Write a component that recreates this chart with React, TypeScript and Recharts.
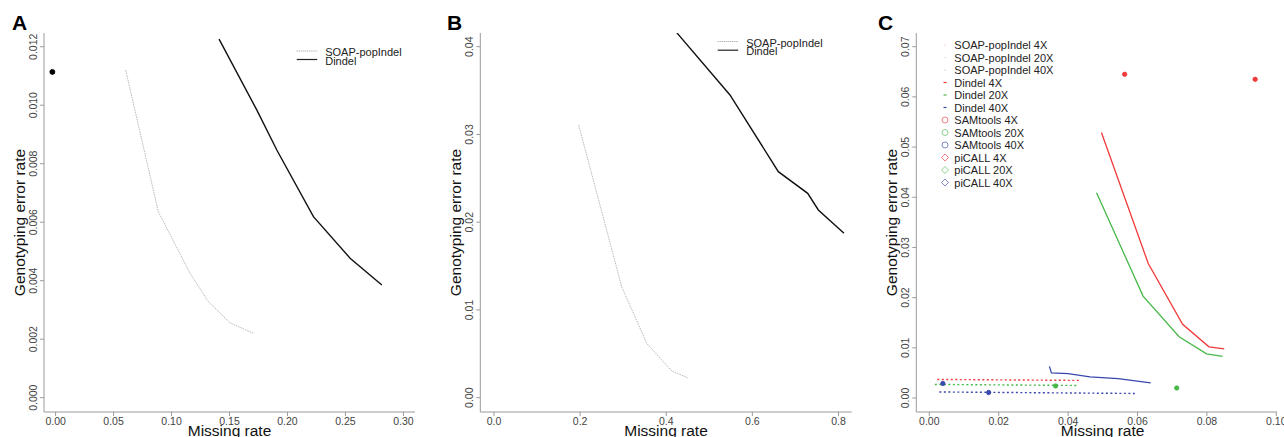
import { ComposedChart, Line, Scatter, XAxis, YAxis } from "recharts";

const FONT = '"Liberation Sans", Arial, Helvetica, sans-serif';
const RED = "#f03a3a";
const GREEN = "#47b847";
const BLUE = "#3848ad";

// ---------- panel A ----------
const aSoapX = [0.0605, 0.0886, 0.116, 0.1318, 0.1505, 0.1706];
const aSoapY = [0.0112, 0.00636, 0.00425, 0.00328, 0.00256, 0.0022];
const aDindelX = [0.141, 0.1735, 0.1908, 0.2224, 0.254, 0.2814];
const aDindelY = [0.01226, 0.00984, 0.00847, 0.00619, 0.00477, 0.00385];
const aDotX = [-0.0028];
const aDotY = [0.01114];
const aXTicks = [0, 0.05, 0.1, 0.15, 0.2, 0.25, 0.3];
const aYTicks = [0, 0.002, 0.004, 0.006, 0.008, 0.01, 0.012];

// ---------- panel B ----------
const bSoapX = [0.1966, 0.2965, 0.3546, 0.4127, 0.4498];
const bSoapY = [0.03108, 0.01265, 0.0062, 0.00304, 0.00228];
const bDindelX = [0.4243, 0.548, 0.6603, 0.7285, 0.7532, 0.8128];
const bDindelY = [0.0416, 0.0345, 0.02576, 0.02329, 0.02139, 0.01873];
const bXTicks = [0, 0.2, 0.4, 0.6, 0.8];
const bYTicks = [0, 0.01, 0.02, 0.03, 0.04];

// ---------- panel C ----------
const cSoap4X = [0.0023, 0.0437];
const cSoap4Y = [0.0037, 0.0035];
const cSoap20X = [0.0016, 0.0429];
const cSoap20Y = [0.0027, 0.0025];
const cSoap40X = [0.0029, 0.0599];
const cSoap40Y = [0.0012, 0.0009];
const cDindel4X = [0.0496, 0.0631, 0.073, 0.0806, 0.085];
const cDindel4Y = [0.0529, 0.0268, 0.0147, 0.0102, 0.0098];
const cDindel20X = [0.0482, 0.0616, 0.072, 0.0799, 0.0845];
const cDindel20Y = [0.0409, 0.0203, 0.0122, 0.0088, 0.0083];
const cDindel40X = [0.0346, 0.0352, 0.04, 0.0463, 0.0544, 0.0638];
const cDindel40Y = [0.0063, 0.005, 0.00485, 0.0042, 0.00386, 0.003];
const cSam4 = [0.0563, 0.0645];
const cSam20 = [0.0713, 0.002];
const cSam40 = [0.0039, 0.0029];
const cPi4 = [0.0939, 0.0635];
const cPi20 = [0.0364, 0.0024];
const cPi40 = [0.0171, 0.0011];
const cXTicks = [0, 0.02, 0.04, 0.06, 0.08, 0.1];
const cYTicks = [0, 0.01, 0.02, 0.03, 0.04, 0.05, 0.06, 0.07];

const cLegendNames = [
  "SOAP-popIndel 4X",
  "SOAP-popIndel 20X",
  "SOAP-popIndel 40X",
  "Dindel 4X",
  "Dindel 20X",
  "Dindel 40X",
  "SAMtools 4X",
  "SAMtools 20X",
  "SAMtools 40X",
  "piCALL 4X",
  "piCALL 20X",
  "piCALL 40X",
];

const pts = (xs: number[], ys: number[]) => xs.map((x, i) => ({ x, y: ys[i] }));

type Series = {
  name: string;
  data: { x: number; y: number }[];
  color: string;
  width?: number;
  dash?: string;
  point?: boolean;
  r?: number;
};

const PLOT_TOP = 33;
const PLOT_BOTTOM = 412;
const H = 437;

const XTick = (props: any) => {
  const { x, y, payload, digits } = props;
  return (
    <text x={x} y={y + 8.5} textAnchor="middle" fontSize={10.5} fill="#444" fontFamily={FONT}>
      {Number(payload.value).toFixed(digits)}
    </text>
  );
};

const YTick = (props: any) => {
  const { x, y, payload, digits } = props;
  const bx = x - 3;
  return (
    <text
      x={bx}
      y={y}
      transform={`rotate(-90 ${bx} ${y})`}
      textAnchor="middle"
      fontSize={10.5}
      fill="#444"
      fontFamily={FONT}
    >
      {Number(payload.value).toFixed(digits)}
    </text>
  );
};

const XTitle = ({ cx }: { cx: number }) => (
  <text x={cx} y={436} textAnchor="middle" fontSize={15.5} fill="#111" fontFamily={FONT}>
    Missing rate
  </text>
);

const YTitle = ({ bx }: { bx: number }) => {
  const cy = (PLOT_TOP + PLOT_BOTTOM) / 2;
  return (
    <text
      x={bx}
      y={cy}
      transform={`rotate(-90 ${bx} ${cy})`}
      textAnchor="middle"
      fontSize={15.5}
      fill="#111"
      fontFamily={FONT}
    >
      Genotyping error rate
    </text>
  );
};

type PanelProps = {
  left: number;
  width: number;
  axisW: number;
  right: number;
  xDomain: [number, number];
  yDomain: [number, number];
  xTicks: number[];
  yTicks: number[];
  xDigits: number;
  yDigits: number;
  series: Series[];
  titleShift?: number;
};

function Panel(p: PanelProps) {
  const plotW = p.width - p.right - p.axisW;
  return (
    <div style={{ position: "absolute", left: p.left, top: 0 }}>
      <ComposedChart
        width={p.width}
        height={H}
        margin={{ top: PLOT_TOP, right: p.right, bottom: 0, left: 0 }}
      >
        <XAxis
          type="number"
          dataKey="x"
          domain={p.xDomain}
          ticks={p.xTicks}
          interval={0}
          allowDataOverflow
          height={H - PLOT_BOTTOM}
          tickSize={4}
          tickMargin={0}
          stroke="#9a9a9a"
          tick={<XTick digits={p.xDigits} />}
          label={<XTitle cx={p.axisW + plotW / 2 + (p.titleShift ?? 0)} />}
        />
        <YAxis
          type="number"
          dataKey="y"
          domain={p.yDomain}
          ticks={p.yTicks}
          interval={0}
          allowDataOverflow
          width={p.axisW}
          tickSize={4}
          tickMargin={0}
          stroke="#9a9a9a"
          tick={<YTick digits={p.yDigits} />}
          label={<YTitle bx={p.axisW - 19} />}
        />
        {p.series.map((s) =>
          s.point ? (
            <Scatter
              key={s.name}
              name={s.name}
              data={s.data}
              isAnimationActive={false}
              shape={(sp: any) => (
                <circle cx={sp.cx} cy={sp.cy} r={s.r ?? 2.2} fill={s.color} stroke={s.color} strokeWidth={0.8} />
              )}
            />
          ) : (
            <Line
              key={s.name}
              name={s.name}
              data={s.data}
              dataKey="y"
              type="linear"
              stroke={s.color}
              strokeWidth={s.width ?? 1}
              strokeDasharray={s.dash}
              dot={false}
              activeDot={false}
              isAnimationActive={false}
            />
          )
        )}
      </ComposedChart>
    </div>
  );
}

const seriesA: Series[] = [
  { name: "SOAP-popIndel", data: pts(aSoapX, aSoapY), color: "#b8b8b8", width: 1, dash: "1.5 1" },
  { name: "Dindel", data: pts(aDindelX, aDindelY), color: "#111", width: 1.4 },
  { name: "point", data: pts(aDotX, aDotY), color: "#000", point: true, r: 2.5 },
];

const seriesB: Series[] = [
  { name: "SOAP-popIndel", data: pts(bSoapX, bSoapY), color: "#b8b8b8", width: 1, dash: "1.5 1" },
  { name: "Dindel", data: pts(bDindelX, bDindelY), color: "#111", width: 1.4 },
];

const seriesC: Series[] = [
  { name: cLegendNames[0], data: pts(cSoap4X, cSoap4Y), color: RED, width: 1.4, dash: "2 2.5" },
  { name: cLegendNames[1], data: pts(cSoap20X, cSoap20Y), color: GREEN, width: 1.4, dash: "2 2.5" },
  { name: cLegendNames[2], data: pts(cSoap40X, cSoap40Y), color: BLUE, width: 1.4, dash: "2 2.5" },
  { name: cLegendNames[3], data: pts(cDindel4X, cDindel4Y), color: RED, width: 1.3 },
  { name: cLegendNames[4], data: pts(cDindel20X, cDindel20Y), color: GREEN, width: 1.3 },
  { name: cLegendNames[5], data: pts(cDindel40X, cDindel40Y), color: BLUE, width: 1.3 },
  { name: cLegendNames[6], data: [{ x: cSam4[0], y: cSam4[1] }], color: RED, point: true },
  { name: cLegendNames[7], data: [{ x: cSam20[0], y: cSam20[1] }], color: GREEN, point: true },
  { name: cLegendNames[8], data: [{ x: cSam40[0], y: cSam40[1] }], color: BLUE, point: true },
  { name: cLegendNames[9], data: [{ x: cPi4[0], y: cPi4[1] }], color: RED, point: true },
  { name: cLegendNames[10], data: [{ x: cPi20[0], y: cPi20[1] }], color: GREEN, point: true },
  { name: cLegendNames[11], data: [{ x: cPi40[0], y: cPi40[1] }], color: BLUE, point: true },
];

const cLegendColors = [RED, GREEN, BLUE];
const cLegendKinds = ["dot", "dash", "circle", "diamond"];

function Overlay() {
  const letter = (t: string, x: number) => (
    <text x={x} y={30} fontSize={21} fontWeight="bold" fill="#000" fontFamily={FONT}>
      {t}
    </text>
  );
  const lineLegend = (x0: number, y0: number, rowH: number, prefix: string) => (
    <g>
      <line x1={x0} x2={x0 + 20.5} y1={y0 - 1} y2={y0 - 1} stroke="#999" strokeWidth={1} strokeDasharray="1 1" />
      <line x1={x0} x2={x0 + 20.5} y1={y0 + rowH - 1} y2={y0 + rowH - 1} stroke="#222" strokeWidth={1.2} />
      <text x={x0 + 28.5} y={y0 + 4} fontSize={11} fill="#222" fontFamily={FONT}>
        {seriesA[0].name}
      </text>
      <text x={x0 + 28.5} y={y0 + rowH + 4} fontSize={11} fill="#222" fontFamily={FONT}>
        {prefix}
      </text>
    </g>
  );
  return (
    <svg
      width={1284}
      height={437}
      style={{ position: "absolute", left: 0, top: 0, pointerEvents: "none" }}
    >
      {letter("A", 12)}
      {letter("B", 447)}
      {letter("C", 878)}
      {lineLegend(296.7, 52, 8.5, seriesA[1].name)}
      {lineLegend(717.7, 42.5, 8.7, seriesB[1].name)}
      {cLegendNames.map((name, i) => {
        const cy = 45 + i * 12.5;
        const color = cLegendColors[i % 3];
        const kind = cLegendKinds[Math.floor(i / 3)];
        const sx = 945;
        let sym = null;
        if (kind === "dot") sym = <circle cx={sx} cy={cy} r={0.6} fill={color} opacity={0.5} />;
        else if (kind === "dash") sym = <line x1={sx - 1.5} x2={sx + 1.5} y1={cy} y2={cy} stroke={color} strokeWidth={1.2} />;
        else if (kind === "circle") sym = <circle cx={sx} cy={cy} r={3} fill="none" stroke={color} strokeWidth={0.9} opacity={0.7} />;
        else
          sym = (
            <polygon
              points={`${sx},${cy - 3.5} ${sx + 3.5},${cy} ${sx},${cy + 3.5} ${sx - 3.5},${cy}`}
              fill="none"
              stroke={color}
              strokeWidth={0.9}
              opacity={0.7}
            />
          );
        return (
          <g key={name}>
            {sym}
            <text x={954.3} y={cy + 4} fontSize={11} fill="#222" fontFamily={FONT}>
              {name}
            </text>
          </g>
        );
      })}
    </svg>
  );
}

export default function App() {
  return (
    <div
      style={{
        position: "absolute",
        left: 0,
        top: 0,
        width: 1284,
        height: 437,
        background: "#fff",
        overflow: "hidden",
      }}
    >
      <Panel
        left={0}
        width={430}
        axisW={44}
        right={15}
        xDomain={[-0.01, 0.31]}
        yDomain={[-0.00049, 0.01247]}
        xTicks={aXTicks}
        yTicks={aYTicks}
        xDigits={2}
        yDigits={3}
        series={seriesA}
      />
      <Panel
        left={430}
        width={430}
        axisW={50.3}
        right={8.3}
        xDomain={[-0.0318, 0.8307]}
        yDomain={[-0.00163, 0.04156]}
        xTicks={bXTicks}
        yTicks={bYTicks}
        xDigits={1}
        yDigits={2}
        series={seriesB}
      />
      <Panel
        left={860}
        width={424}
        axisW={56.3}
        right={7}
        xDomain={[-0.00375, 0.1002]}
        yDomain={[-0.00279, 0.07273]}
        xTicks={cXTicks}
        yTicks={cYTicks}
        xDigits={2}
        yDigits={2}
        series={seriesC}
        titleShift={6}
      />
      <Overlay />
    </div>
  );
}
